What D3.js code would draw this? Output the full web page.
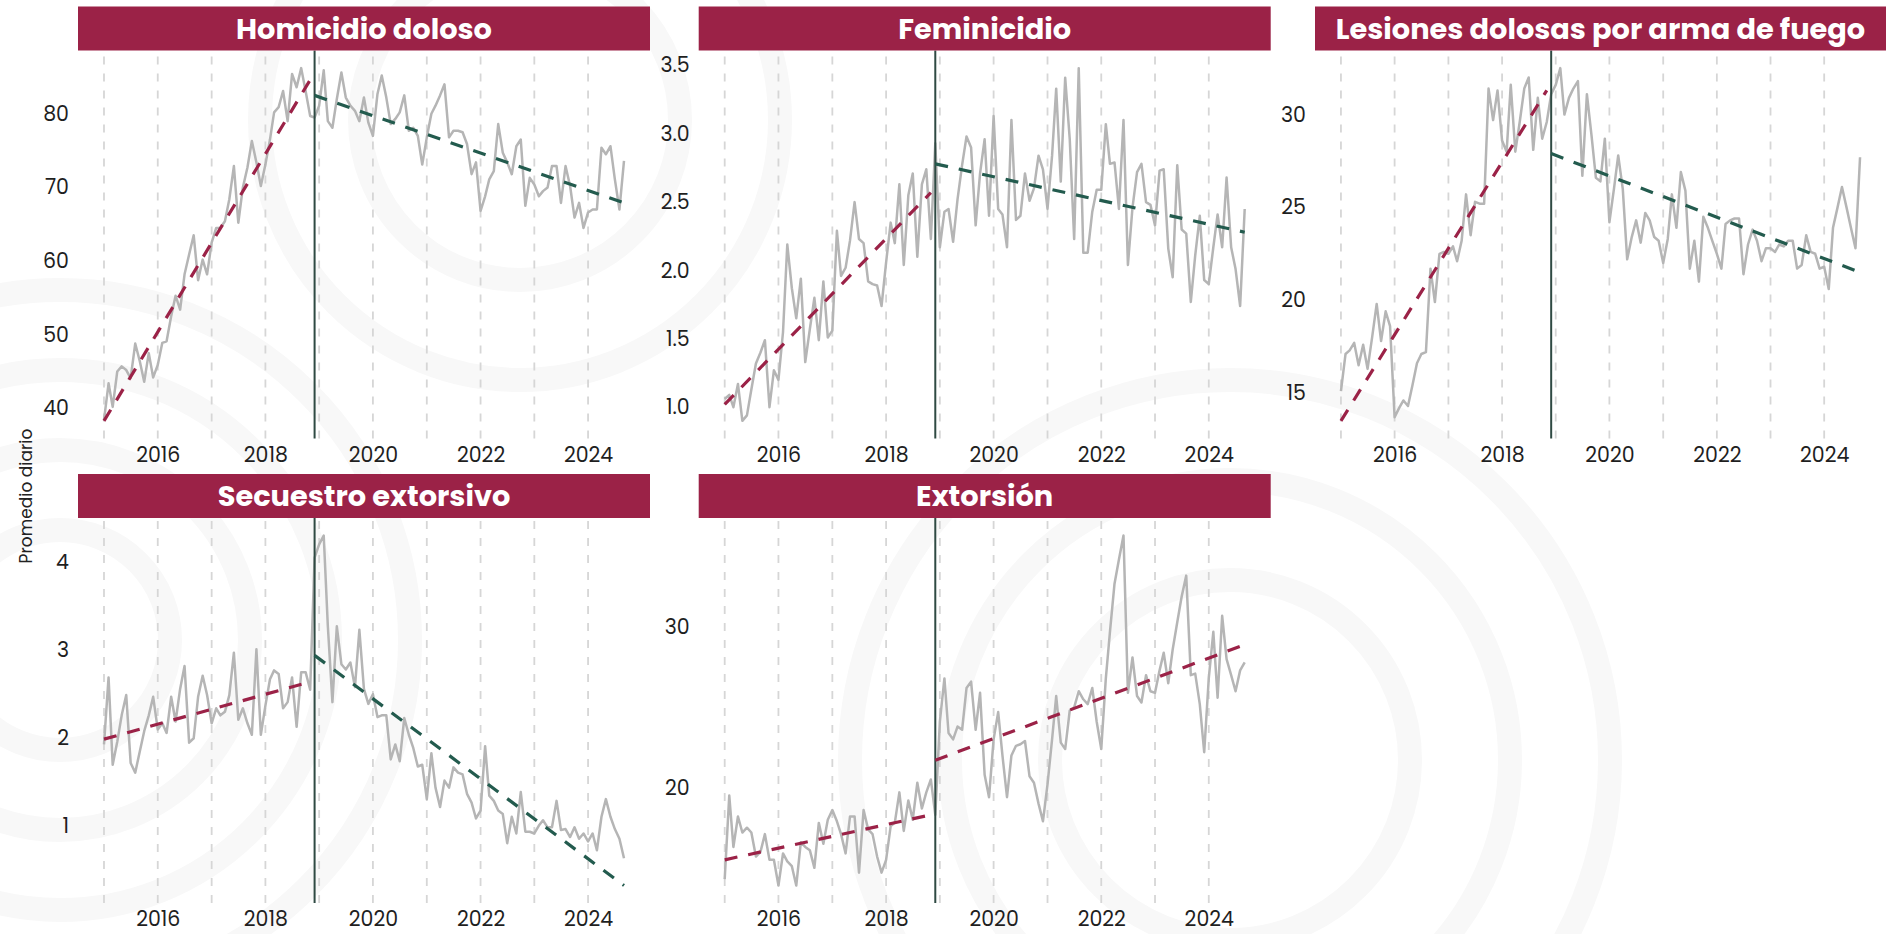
<!DOCTYPE html>
<html lang="es">
<head>
<meta charset="utf-8">
<title>Promedio diario por delito</title>
<script src="https://cdn.jsdelivr.net/npm/d3@7"></script>
<style>
  html, body { margin: 0; padding: 0; background: #ffffff; }
  svg { display: block; }
  .tick text { font-family: Poppins, Inter, "Noto Sans", sans-serif; font-size: 20.5px; fill: #1f1f1f; }
</style>
</head>
<body>
<svg id="chart" width="1886" height="934"></svg>
<script>
// Promedio diario mensual, enero 2015 a septiembre 2024 (117 meses)
const startMonth = new Date(2015, 0, 1);

const crimes = [
  "Homicidio doloso",
  "Feminicidio",
  "Lesiones dolosas por arma de fuego",
  "Secuestro extorsivo",
  "Extorsión"
];

const homicidio = [
  38.4, 43.4, 40.2, 45.0, 45.7, 45.2, 44.1, 48.8, 46.4, 43.6, 47.5, 44.2,
  45.9, 48.9, 49.1, 52.5, 55.3, 53.4, 58.2, 60.9, 63.5, 57.4, 60.2, 58.2,
  62.5, 64.5, 64.5, 65.4, 68.4, 72.9, 65.2, 70.0, 72.7, 76.3, 73.4, 70.2,
  73.1, 76.5, 80.2, 80.9, 83.1, 79.0, 85.4, 83.6, 86.2, 83.1, 79.7, 79.5,
  81.1, 85.9, 79.0, 78.1, 82.0, 85.6, 82.2, 81.1, 80.4, 79.0, 82.2, 78.8,
  77.0, 82.7, 85.2, 82.2, 78.6, 79.3, 80.2, 82.5, 77.7, 78.1, 77.0, 73.1,
  76.8, 80.0, 81.1, 82.5, 84.0, 76.8, 77.7, 77.7, 77.5, 75.9, 71.8, 73.4,
  66.8, 68.8, 71.1, 72.2, 78.6, 74.7, 73.4, 71.8, 75.6, 76.5, 67.5, 71.3,
  70.4, 68.8, 69.5, 70.0, 72.9, 72.9, 67.9, 72.9, 70.2, 65.9, 67.9, 64.5,
  66.6, 67.0, 67.0, 75.4, 74.5, 75.6, 71.1, 67.0, 73.6
];

const feminicidio = [
  1.06, 1.09, 1.00, 1.17, 0.90, 0.94, 1.13, 1.32, 1.40, 1.49, 1.00, 1.27,
  1.20, 1.55, 2.19, 1.87, 1.65, 1.94, 1.33, 1.57, 1.80, 1.49, 1.92, 1.51,
  1.56, 2.29, 1.96, 2.02, 2.22, 2.50, 2.23, 2.20, 1.92, 1.90, 1.89, 1.74,
  2.06, 2.35, 2.20, 2.63, 2.04, 2.55, 2.71, 2.10, 2.63, 2.74, 2.23, 2.93,
  2.17, 2.43, 2.45, 2.21, 2.52, 2.77, 2.98, 2.90, 2.33, 2.71, 2.96, 2.40,
  3.13, 2.45, 2.41, 2.17, 3.10, 2.37, 2.40, 2.71, 2.51, 2.60, 2.84, 2.74,
  2.45, 2.84, 3.33, 2.65, 3.41, 2.96, 2.23, 3.48, 2.13, 2.13, 2.43, 2.59,
  2.59, 3.07, 2.78, 2.79, 2.45, 3.10, 2.04, 2.46, 2.72, 2.78, 2.50, 2.48,
  2.33, 2.73, 2.74, 2.16, 1.95, 2.77, 2.30, 2.27, 1.77, 2.11, 2.40, 1.93,
  1.90, 2.17, 2.41, 2.17, 2.68, 2.17, 2.01, 1.74, 2.45
];

const lesiones = [
  15.1, 17.1, 17.3, 17.7, 16.5, 17.6, 16.3, 18.0, 19.8, 17.8, 19.4, 18.6,
  13.7, 14.2, 14.6, 14.3, 15.4, 16.6, 17.1, 17.2, 21.7, 19.9, 22.5, 22.6,
  22.5, 22.9, 22.1, 23.2, 25.7, 23.5, 25.3, 25.2, 25.2, 31.4, 29.7, 31.3,
  28.6, 28.0, 31.6, 28.0, 29.6, 31.4, 32.0, 28.1, 30.9, 28.7, 29.6, 31.1,
  31.6, 32.5, 30.0, 30.9, 31.4, 31.8, 26.7, 31.1, 28.9, 26.6, 26.4, 28.7,
  24.2, 26.0, 27.8, 26.0, 22.2, 23.4, 24.3, 23.1, 24.7, 24.3, 23.4, 23.2,
  22.0, 23.3, 25.7, 23.9, 26.9, 25.9, 21.7, 23.2, 21.0, 24.5, 23.9, 23.2,
  22.5, 21.7, 24.1, 24.3, 24.4, 24.4, 21.4, 23.0, 23.8, 23.2, 22.1, 22.8,
  22.8, 22.6, 23.0, 22.9, 23.2, 23.2, 21.7, 21.9, 23.5, 22.6, 22.5, 21.7,
  21.8, 20.6, 23.9, 25.0, 26.1, 25.0, 23.9, 22.8, 27.7
];

const secuestro = [
  1.93, 2.69, 1.70, 1.96, 2.26, 2.49, 1.72, 1.61, 1.85, 2.08, 2.26, 2.47,
  2.10, 2.17, 2.06, 2.47, 2.19, 2.56, 2.82, 1.95, 2.00, 2.47, 2.71, 2.49,
  2.17, 2.34, 2.26, 2.30, 2.49, 2.97, 2.21, 2.34, 2.17, 2.04, 3.01, 2.04,
  2.37, 2.67, 2.77, 2.73, 2.34, 2.41, 2.69, 2.13, 2.75, 2.75, 2.55, 4.05,
  4.20, 4.30, 3.27, 2.41, 3.27, 2.84, 2.78, 2.86, 2.58, 3.23, 2.56, 2.39,
  2.50, 2.24, 2.26, 2.26, 1.76, 1.93, 1.74, 2.23, 2.04, 1.89, 1.68, 1.70,
  1.31, 1.83, 1.44, 1.22, 1.52, 1.44, 1.67, 1.61, 1.59, 1.37, 1.27, 1.09,
  1.18, 1.91, 1.35, 1.29, 1.18, 1.14, 0.81, 1.11, 0.92, 1.39, 0.94, 0.94,
  0.92, 1.01, 1.07, 0.99, 0.99, 1.29, 0.96, 0.97, 0.88, 0.99, 0.86, 0.92,
  0.83, 0.92, 0.73, 1.11, 1.31, 1.11, 0.97, 0.86, 0.64
];

const extorsion = [
  14.3, 19.5, 16.3, 18.2, 17.2, 17.5, 17.2, 15.7, 16.0, 17.1, 15.5, 15.5,
  13.9, 15.9, 15.4, 15.1, 13.9, 16.6, 16.3, 16.1, 15.0, 17.8, 16.5, 18.0,
  18.6, 17.9, 17.1, 15.9, 18.2, 18.2, 14.7, 18.6, 17.4, 17.1, 15.7, 14.7,
  15.5, 17.6, 17.8, 19.7, 17.3, 19.2, 18.0, 20.3, 18.7, 19.7, 20.5, 18.3,
  24.1, 26.8, 23.4, 23.0, 23.8, 23.6, 26.2, 26.6, 23.6, 25.9, 20.8, 19.4,
  23.0, 24.7, 22.0, 19.4, 22.0, 22.6, 22.7, 22.9, 20.7, 20.3, 19.0, 17.9,
  20.2, 23.0, 25.7, 22.8, 22.4, 24.8, 25.0, 26.0, 25.5, 25.2, 26.2, 24.1,
  22.4, 26.8, 29.7, 32.7, 34.2, 35.7, 25.9, 28.1, 25.7, 25.3, 27.0, 26.0,
  25.9, 27.3, 28.4, 26.5, 28.6, 30.3, 31.9, 33.2, 27.0, 27.1, 25.2, 22.2,
  26.8, 29.7, 25.6, 30.7, 28.0, 27.0, 26.0, 27.3, 27.8
];

// tendencias lineales: [valor inicial, valor final]
// antes: ene 2015 - nov 2018 ; después: dic 2018 - sep 2024
const trendBefore = [[38.3, 84.6], [1.02, 2.57], [13.5, 31.3], [1.99, 2.64], [15.5, 18.3]];
const trendAfter  = [[82.5, 67.9], [2.78, 2.28], [27.9, 21.5], [2.94, 0.33], [21.7, 28.9]];
const breakIndex = 47; // diciembre 2018

const yTicks = [
  [40, 50, 60, 70, 80],
  [1.0, 1.5, 2.0, 2.5, 3.0, 3.5],
  [15, 20, 25, 30],
  [1, 2, 3, 4],
  [20, 30]
];
const yFormats = ["d", ".1f", "d", "d", "d"];

const xTickYears = [2016, 2018, 2020, 2022, 2024];
const gridYears = [2015, 2016, 2017, 2018, 2019, 2020, 2021, 2022, 2023, 2024];

const series = [homicidio, feminicidio, lesiones, secuestro, extorsion];

// colors
const guinda = "#9b2247";
const verde = "#235b4e";
const lineGray = "#b5b5b5";
const gridGray = "#d6d6d6";
const breakColor = "#2f4a43";

// layout (facet grid 3 x 2)
const colLeft = [78, 698.7, 1315];
const panelW = [572, 572, 571];
const rowTop = [6.5, 474];
const stripH = 44;
const panelH = [388, 385];

const svg = d3.select("#chart");

// faint background pattern (watermark)
const bg = svg.append("g").attr("fill", "none").attr("stroke", "#f8f8f8");
[[60, 640, [110, 190, 270, 350]], [1230, 760, [180, 280, 380]], [520, 120, [160, 260]]]
  .forEach(([cx, cy, rs]) => {
    rs.forEach(r => bg.append("circle").attr("cx", cx).attr("cy", cy).attr("r", r).attr("stroke-width", 24));
  });

const dates = homicidio.map((_, i) => d3.timeMonth.offset(startMonth, i));
const dateExt = d3.extent(dates);
const pad = (dateExt[1] - dateExt[0]) * 0.05;

crimes.forEach((name, k) => {
  const col = k % 3, row = Math.floor(k / 3);
  const left = colLeft[col], w = panelW[col], h = panelH[row];
  const top = rowTop[row] + stripH;
  const g = svg.append("g").attr("transform", `translate(${left},${top})`);

  const x = d3.scaleTime()
    .domain([new Date(+dateExt[0] - pad), new Date(+dateExt[1] + pad)])
    .range([0, w]);

  const vals = series[k];
  const all = vals.concat(trendBefore[k], trendAfter[k]);
  const [lo, hi] = d3.extent(all);
  const yPad = (hi - lo) * 0.05;
  const y = d3.scaleLinear().domain([lo - yPad, hi + yPad]).range([h, 0]);

  // strip header
  svg.append("rect")
    .attr("x", left).attr("y", rowTop[row])
    .attr("width", w).attr("height", stripH)
    .attr("fill", guinda);
  svg.append("text")
    .attr("x", left + w / 2).attr("y", rowTop[row] + stripH / 2)
    .attr("dy", "0.36em")
    .attr("text-anchor", "middle")
    .attr("fill", "#ffffff")
    .style("font-family", "Poppins, Inter, 'Noto Sans', sans-serif")
    .style("font-weight", 700)
    .style("font-size", "28.8px")
    .text(name);

  // yearly dashed grid
  g.selectAll(".grid")
    .data(gridYears)
    .join("line")
    .attr("x1", d => x(new Date(d, 0, 1)))
    .attr("x2", d => x(new Date(d, 0, 1)))
    .attr("y1", h).attr("y2", 0)
    .attr("stroke", gridGray)
    .attr("stroke-width", 1.8)
    .attr("stroke-dasharray", "8,9");

  // series line
  const line = d3.line()
    .x((d, i) => x(dates[i]))
    .y(d => y(d));
  g.append("path")
    .datum(vals)
    .attr("fill", "none")
    .attr("stroke", lineGray)
    .attr("stroke-width", 2.5)
    .attr("stroke-linejoin", "round")
    .attr("d", line);

  // break line (diciembre 2018)
  const xb = x(dates[breakIndex]);
  g.append("line")
    .attr("x1", xb).attr("x2", xb)
    .attr("y1", 0).attr("y2", h)
    .attr("stroke", breakColor)
    .attr("stroke-width", 2);

  // trend lines, colored by slope
  const trends = [
    { i0: 0, i1: breakIndex - 1, v: trendBefore[k] },
    { i0: breakIndex, i1: vals.length - 1, v: trendAfter[k] }
  ];
  trends.forEach(t => {
    g.append("line")
      .attr("x1", x(dates[t.i0])).attr("y1", y(t.v[0]))
      .attr("x2", x(dates[t.i1])).attr("y2", y(t.v[1]))
      .attr("stroke", t.v[1] >= t.v[0] ? guinda : verde)
      .attr("stroke-width", 3.2)
      .attr("stroke-dasharray", "13,11");
  });

  // axes
  const yAxis = d3.axisLeft(y)
    .tickValues(yTicks[k])
    .tickFormat(d3.format(yFormats[k]))
    .tickSize(0).tickPadding(9);
  g.append("g").call(yAxis).call(a => a.select(".domain").remove());

  const xAxis = d3.axisBottom(x)
    .tickValues(xTickYears.map(yr => new Date(yr, 0, 1)))
    .tickFormat(d3.timeFormat("%Y"))
    .tickSize(0).tickPadding(row === 0 ? 9 : 8);
  g.append("g").attr("transform", `translate(0,${h})`)
    .call(xAxis).call(a => a.select(".domain").remove());
});

// y axis title
svg.append("text")
  .attr("transform", "translate(32,496) rotate(-90)")
  .attr("text-anchor", "middle")
  .attr("fill", "#222")
  .style("font-family", "Poppins, Inter, 'Noto Sans', sans-serif")
  .style("font-size", "17px")
  .text("Promedio diario");
</script>
</body>
</html>
